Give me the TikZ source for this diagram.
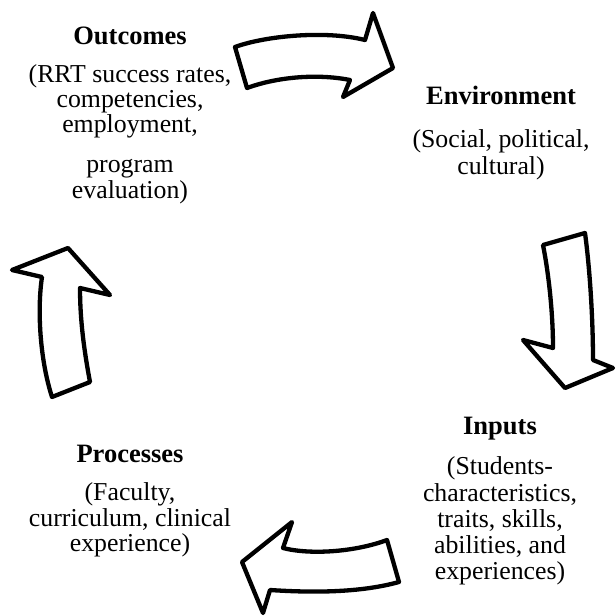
\documentclass[tikz,border=0pt]{standalone}
\usepackage{fontspec}
\setmainfont{Liberation Serif}
\begin{document}
\begin{tikzpicture}[x=1pt,y=-1pt,
  lbl/.style={font=\fontsize{25.8}{26}\selectfont, anchor=base, inner sep=0pt},
  ttl/.style={font=\fontsize{26.5}{26}\selectfont\bfseries, anchor=base, inner sep=0pt},
  blockarrow/.style={draw=black, fill=white, line width=4.3pt, line join=round}]
\useasboundingbox (0,0) rectangle (616,616);

% Outcomes
\node[ttl] (outT) at (130,44) {Outcomes};
\node[lbl] (out1) at (130,82) {(RRT success rates,};
\node[lbl] (out2) at (130,107) {competencies,};
\node[lbl] (out3) at (130,132) {employment,};
\node[lbl] (out4) at (130,172) {program};
\node[lbl] (out5) at (130,198) {evaluation)};

% Environment
\node[ttl] (envT) at (501,104) {Environment};
\node[lbl] (env1) at (501,147.5) {(Social, political,};
\node[lbl] (env2) at (501,174) {cultural)};

% Inputs
\node[ttl] (inT) at (500,434) {Inputs};
\node[lbl] (in1) at (500,474) {(Students-};
\node[lbl] (in2) at (500,501) {characteristics,};
\node[lbl] (in3) at (500,527) {traits, skills,};
\node[lbl] (in4) at (500,553) {abilities, and};
\node[lbl] (in5) at (500,579) {experiences)};

% Processes
\node[ttl] (prT) at (130,462) {Processes};
\node[lbl] (pr1) at (130,500) {(Faculty,};
\node[lbl] (pr2) at (130,526) {curriculum, clinical};
\node[lbl] (pr3) at (130,551) {experience)};

% top arrow (Outcomes -> Environment)
\draw[blockarrow] (235,47) .. controls (265,36) and (325,30) .. (365,40)
  -- (373,13) -- (393,68) -- (343,97) -- (350,80)
  .. controls (320,74) and (280,76) .. (247,88) -- cycle;

% right arrow (Environment -> Inputs)
\draw[blockarrow] (543,245) -- (585,233)
  .. controls (590,270) and (593,320) .. (593,360)
  -- (613,368) -- (565,388) -- (523,340) -- (553,348)
  .. controls (553,310) and (548,270) .. (543,245) -- cycle;

% bottom arrow (Inputs -> Processes)
\draw[blockarrow] (242,562) -- (292,522) -- (283,548)
  .. controls (310,555) and (355,552) .. (387,540)
  -- (399,582) .. controls (370,590) and (330,594) .. (270,590)
  -- (263,613) -- cycle;

% left arrow (Processes -> Outcomes)
\draw[blockarrow] (52,397) -- (90,382)
  .. controls (84,350) and (80,320) .. (80,288)
  -- (110,295) -- (68,248) -- (12,270) -- (42,277)
  .. controls (37,310) and (40,360) .. (52,397) -- cycle;
\end{tikzpicture}
\end{document}
